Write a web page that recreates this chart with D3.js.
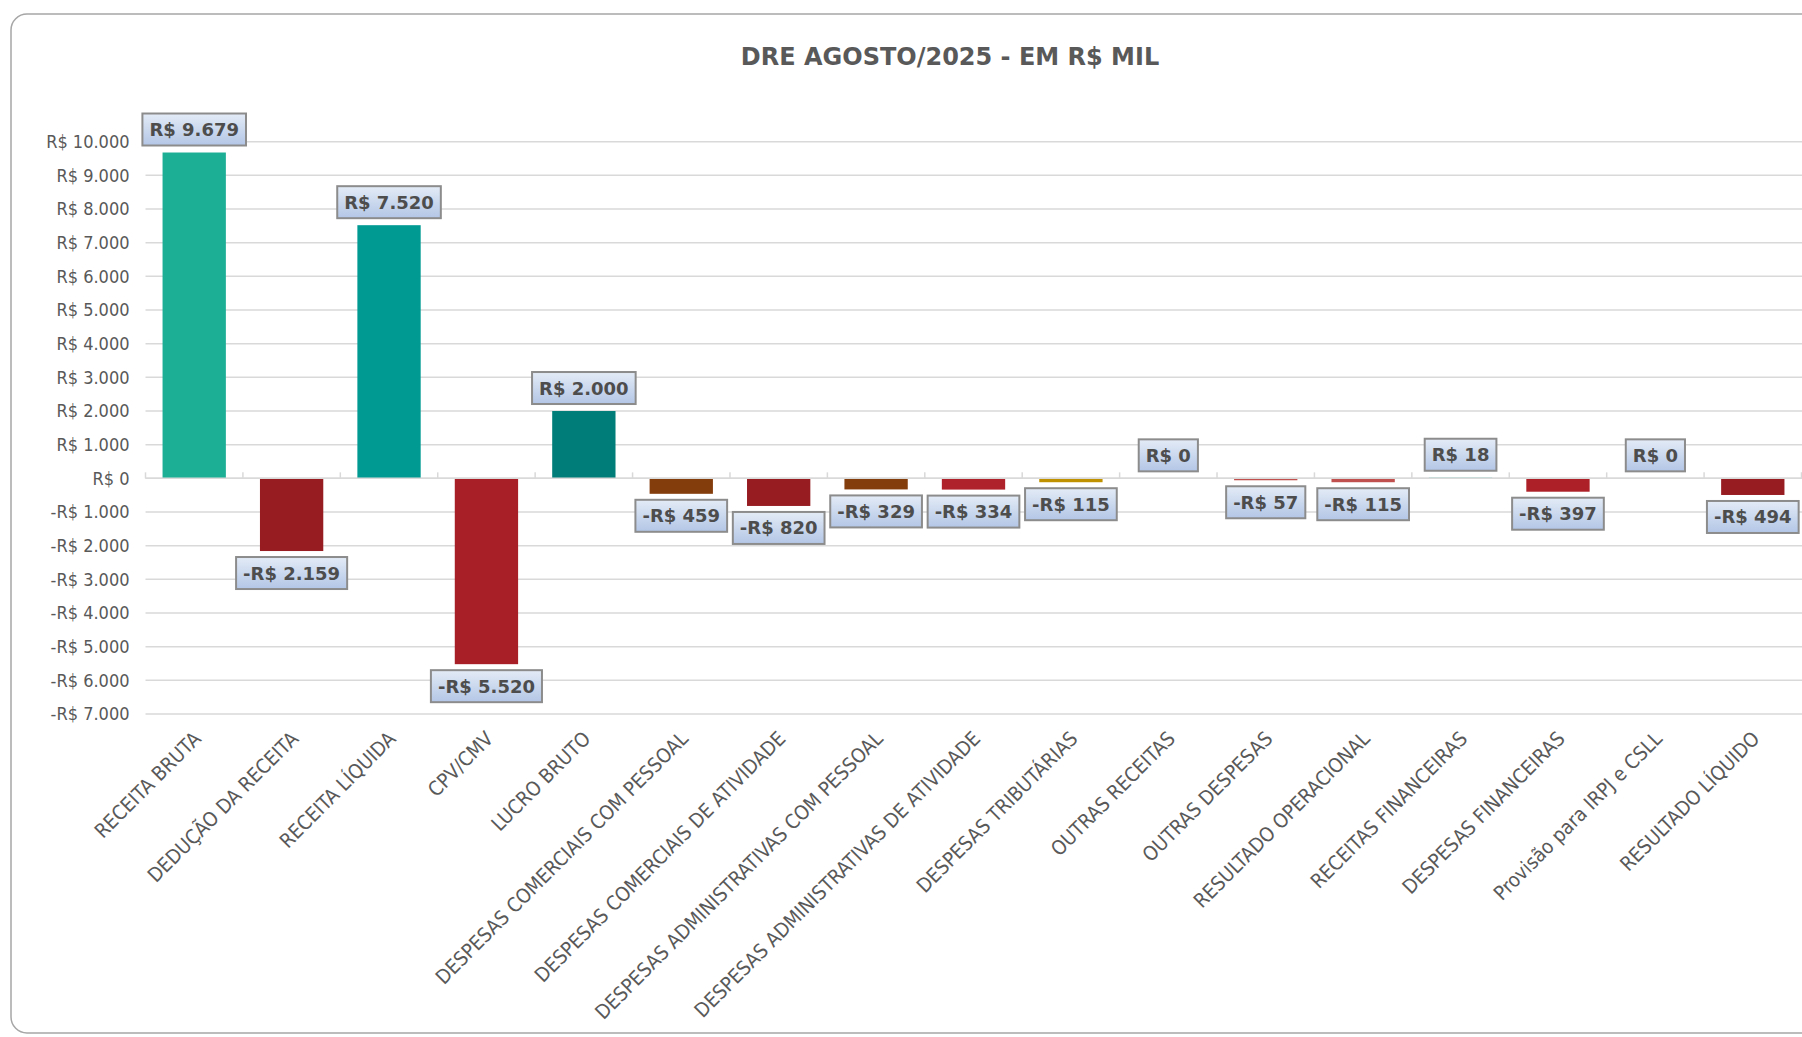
<!DOCTYPE html>
<html>
<head>
<meta charset="utf-8">
<script src="https://cdn.jsdelivr.net/npm/d3@7"></script>
<style>
  html, body { margin: 0; padding: 0; background: #fff; overflow: hidden; }
  text { font-family: "DejaVu Sans", sans-serif; }
</style>
</head>
<body>
<div id="chart"></div>
<script>
// DRE agosto/2025 - valores em R$ mil
const categorias = [
  "RECEITA BRUTA", "DEDUÇÃO DA RECEITA", "RECEITA LÍQUIDA", "CPV/CMV", "LUCRO BRUTO",
  "DESPESAS COMERCIAIS COM PESSOAL", "DESPESAS COMERCIAIS DE ATIVIDADE",
  "DESPESAS ADMINISTRATIVAS COM PESSOAL", "DESPESAS ADMINISTRATIVAS DE ATIVIDADE",
  "DESPESAS TRIBUTÁRIAS", "OUTRAS RECEITAS", "OUTRAS DESPESAS", "RESULTADO OPERACIONAL",
  "RECEITAS FINANCEIRAS", "DESPESAS FINANCEIRAS", "Provisão para IRPJ e CSLL", "RESULTADO LÍQUIDO"
];
const valores = [9679, -2159, 7520, -5520, 2000, -459, -820, -329, -334, -115, 0, -57, -115, 18, -397, 0, -494];
const cores = [
  "#1dae96", "#961c22", "#009a93", "#a91f28", "#007d78",
  "#833c0b", "#961c22", "#833c0b", "#b0222b",
  "#bf9000", "#c0504d", "#c0504d", "#c0504d",
  "#2bb59e", "#ad2028", "#961c22", "#961c22"
];
const yTicks = [-7000, -6000, -5000, -4000, -3000, -2000, -1000, 0, 1000, 2000, 3000, 4000, 5000, 6000, 7000, 8000, 9000, 10000];

const W = 1802, H = 1037;
const data = categorias.map((c, i) => ({cat: c, v: valores[i], cor: cores[i]}));

const br = d3.formatLocale({decimal: ",", thousands: ".", grouping: [3], currency: ["R$ ", ""], minus: "-"});
const fmt = br.format("$,.0f");

const svg = d3.select("#chart").append("svg")
    .attr("width", W)
    .attr("height", H);

// moldura
svg.append("rect")
    .attr("x", 11).attr("y", 14)
    .attr("width", 1840).attr("height", 1019)
    .attr("rx", 16)
    .attr("fill", "#fff")
    .attr("stroke", "#a6a6a6")
    .attr("stroke-width", 1.5);

svg.append("text")
    .attr("x", 950).attr("y", 65)
    .attr("text-anchor", "middle")
    .attr("font-family", "Liberation Sans, sans-serif")
    .attr("font-weight", "bold")
    .attr("font-size", 24)
    .attr("fill", "#595959")
    .text("DRE AGOSTO/2025 - EM R$ MIL");

const x = d3.scaleBand()
    .domain(categorias)
    .range([145.5, 1801.5])
    .paddingInner(0.35)
    .paddingOuter(0.175);

const y = d3.scaleLinear()
    .domain([-7000, 10000])
    .range([714, 141.7]);

// grade
svg.append("g")
    .selectAll("line")
    .data(yTicks)
    .join("line")
    .attr("x1", 145.5).attr("x2", W)
    .attr("y1", d => y(d)).attr("y2", d => y(d))
    .attr("stroke", "#d9d9d9")
    .attr("stroke-width", 1.5);

// eixo y
svg.append("g")
    .attr("transform", "translate(145.5,0)")
    .call(d3.axisLeft(y).tickValues(yTicks).tickFormat(fmt).tickSize(0).tickPadding(16))
    .call(g => g.select(".domain").remove())
    .call(g => g.selectAll("text")
        .attr("font-family", "DejaVu Sans Condensed, DejaVu Sans, sans-serif")
        .attr("font-stretch", "condensed")
        .attr("font-size", 18)
        .attr("fill", "#595959"));

// barras
svg.append("g")
    .selectAll("rect")
    .data(data)
    .join("rect")
    .attr("x", d => x(d.cat))
    .attr("width", x.bandwidth())
    .attr("y", d => y(Math.max(0, d.v)))
    .attr("height", d => Math.abs(y(d.v) - y(0)))
    .attr("fill", d => d.cor);

// linha do zero com marcas
const eixoX = svg.append("g")
    .attr("transform", "translate(0," + y(0) + ")");
eixoX.append("line")
    .attr("x1", 145.5).attr("x2", W)
    .attr("stroke", "#d9d9d9").attr("stroke-width", 1.5);
eixoX.selectAll("line.tick")
    .data(d3.range(categorias.length + 1))
    .join("line")
    .attr("class", "tick")
    .attr("x1", i => 145.5 + i * x.step()).attr("x2", i => 145.5 + i * x.step())
    .attr("y1", 0).attr("y2", -6)
    .attr("stroke", "#d9d9d9").attr("stroke-width", 1.5);

// rótulos das categorias
svg.append("g")
    .selectAll("text")
    .data(categorias)
    .join("text")
    .attr("transform", d => "translate(" + (x(d) + x.bandwidth() / 2 + 8) + ",740) rotate(-45)")
    .attr("text-anchor", "end")
    .attr("font-family", "DejaVu Sans Condensed, DejaVu Sans, sans-serif")
    .attr("font-stretch", "condensed")
    .attr("font-size", 20)
    .attr("fill", "#595959")
    .text(d => d);

// rótulos de dados
const defs = svg.append("defs");
const grad = defs.append("linearGradient")
    .attr("id", "lblGrad")
    .attr("x1", 0).attr("y1", 0).attr("x2", 0).attr("y2", 1);
grad.append("stop").attr("offset", "0%").attr("stop-color", "#e3ebf6");
grad.append("stop").attr("offset", "100%").attr("stop-color", "#b3c6e6");

const lbl = svg.append("g")
    .selectAll("g")
    .data(data)
    .join("g");

lbl.append("text")
    .attr("x", d => x(d.cat) + x.bandwidth() / 2)
    .attr("text-anchor", "middle")
    .attr("font-size", 18)
    .attr("font-weight", "bold")
    .attr("fill", "#4d4d4d")
    .text(d => fmt(d.v))
    .each(function(d) {
        const w = this.getComputedTextLength();
        const bw = w + 14, bh = 32;
        const top = d.v >= 0 ? y(d.v) - 7 - bh : y(d.v) + 6;
        d3.select(this).attr("y", top + bh / 2 + 6.5);
        d3.select(this.parentNode).insert("rect", "text")
            .attr("x", x(d.cat) + x.bandwidth() / 2 - bw / 2)
            .attr("y", top)
            .attr("width", bw)
            .attr("height", bh)
            .attr("fill", "url(#lblGrad)")
            .attr("stroke", "#8c8c8c")
            .attr("stroke-width", 2);
    });
</script>
</body>
</html>
